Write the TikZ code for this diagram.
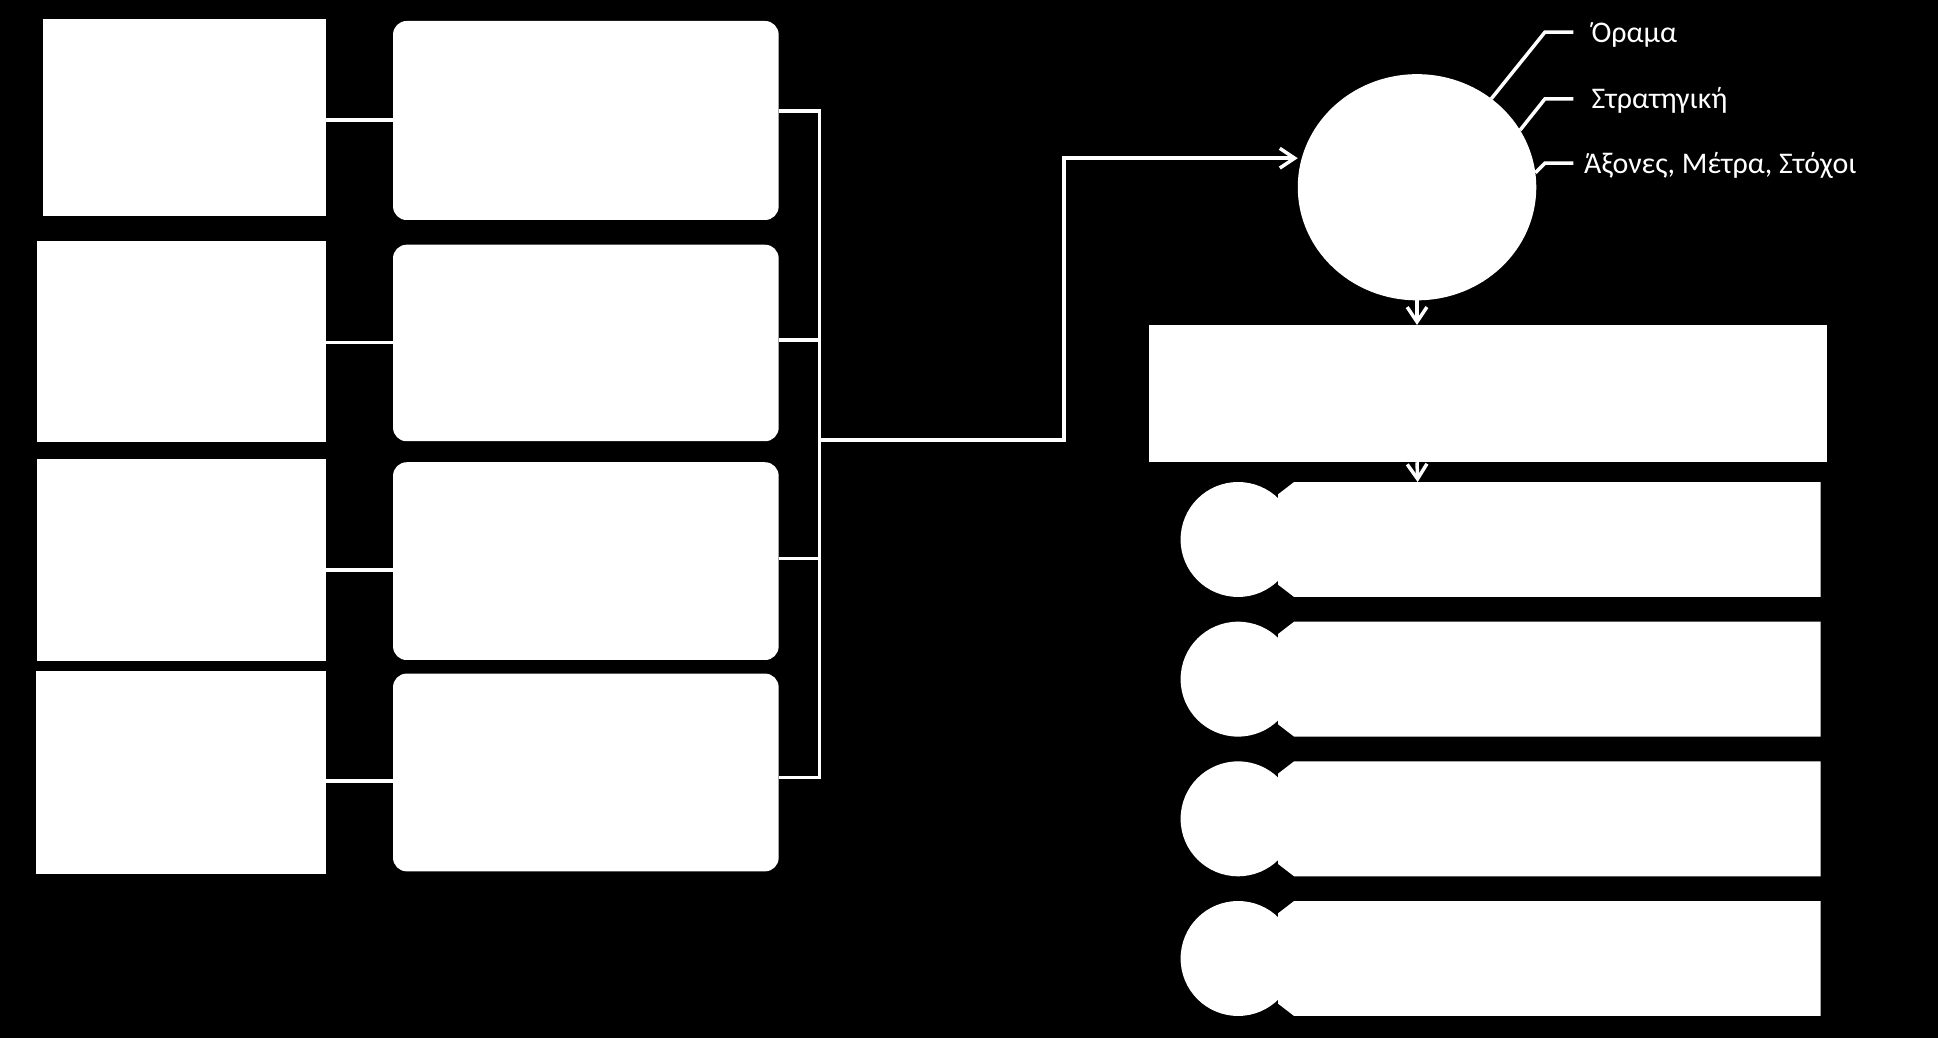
\documentclass[tikz,border=0pt]{standalone}
\usepackage{fontspec}
\setmainfont{Carlito}
\usetikzlibrary{arrows.meta,shapes.geometric,fit,calc}
\begin{document}
\begin{tikzpicture}[x=0.1mm,y=-0.1mm,
  box/.style={fill=white,draw=none,inner sep=0pt,outer sep=0pt},
  rbox/.style={box,rounded corners=1.1mm},
  conn/.style={draw=white,line width=0.8pt},
  arr/.style={conn,-{Straight Barb[length=1.2mm,width=1.6mm]}},
  lbl/.style={text=white,font=\fontsize{6.9pt}{8pt}\selectfont,inner sep=0pt,anchor=base west}]
\fill[black] (0,0) rectangle (1568,840);
\useasboundingbox (0,0) rectangle (1568,840);
% left square boxes
\node[box,fit={(35,15)(264,175)}] (s1) {};
\node[box,fit={(30,195)(264,358)}] (s2) {};
\node[box,fit={(30,371)(264,535)}] (s3) {};
\node[box,fit={(29,543)(264,707)}] (s4) {};
% rounded boxes
\node[rbox,fit={(318,17)(630,178)}] (r1) {};
\node[rbox,fit={(318,198)(630,357)}] (r2) {};
\node[rbox,fit={(318,374)(630,534)}] (r3) {};
\node[rbox,fit={(318,545)(630,705)}] (r4) {};
% square -> rounded connectors
\coordinate (c1) at (0,97);
\coordinate (c2) at (0,277);
\coordinate (c3) at (0,461);
\coordinate (c4) at (0,632);
\draw[conn] (s1.east |- c1) -- (r1.west |- c1);
\draw[conn] (s2.east |- c2) -- (r2.west |- c2);
\draw[conn] (s3.east |- c3) -- (r3.west |- c3);
\draw[conn] (s4.east |- c4) -- (r4.west |- c4);
% bracket
\coordinate (b1) at (663,90);
\coordinate (b2) at (663,275);
\coordinate (b3) at (663,452);
\coordinate (b4) at (663,629);
\draw[conn] (r1.east |- b1) -- (b1) -- (b4) -- (r4.east |- b4);
\draw[conn] (r2.east |- b2) -- (b2);
\draw[conn] (r3.east |- b3) -- (b3);
% big circle
\node[box,ellipse,minimum width=19.3mm,minimum height=18.3mm] (circ) at (1146.5,151.5) {};
\coordinate (bm) at (663,356);
\coordinate (bk) at (861,128);
\draw[arr] (bm) -| (bk) -- (bk -| circ.west);
% big rectangle
\node[box,fit={(930,263)(1478,374)}] (big) {};
\draw[arr] (circ.south) -- (circ.south |- big.north);
% items
\foreach \t [count=\k] in {390,503,616,729} {
  \node[box,circle,minimum size=9.3mm] (ic\k) at (1001.7,{\t+46.5}) {};
  \fill[white] (1047,\t) -- (1473,\t) -- (1473,{\t+93}) -- (1047,{\t+93}) -- (1034,{\t+83}) -- (1034,{\t+10}) -- cycle;
  \coordinate (it\k) at (1147,\t);
}
\draw[arr] (circ.south |- big.south) -- (it1);
% labels
\node[lbl] (t1) at (1287,34) {Όραμα};
\node[lbl] (t2) at (1287,88) {Στρατηγική};
\node[lbl] (t3) at (1281,140) {Άξονες, Μέτρα, Στόχοι};
\draw[conn] (circ.50) -- (1250,26) -- (1273,26);
\draw[conn] (circ.29) -- (1250,80) -- (1273,80);
\draw[conn] (circ.7) -- (1250,132) -- (1273,132);
\end{tikzpicture}
\end{document}
